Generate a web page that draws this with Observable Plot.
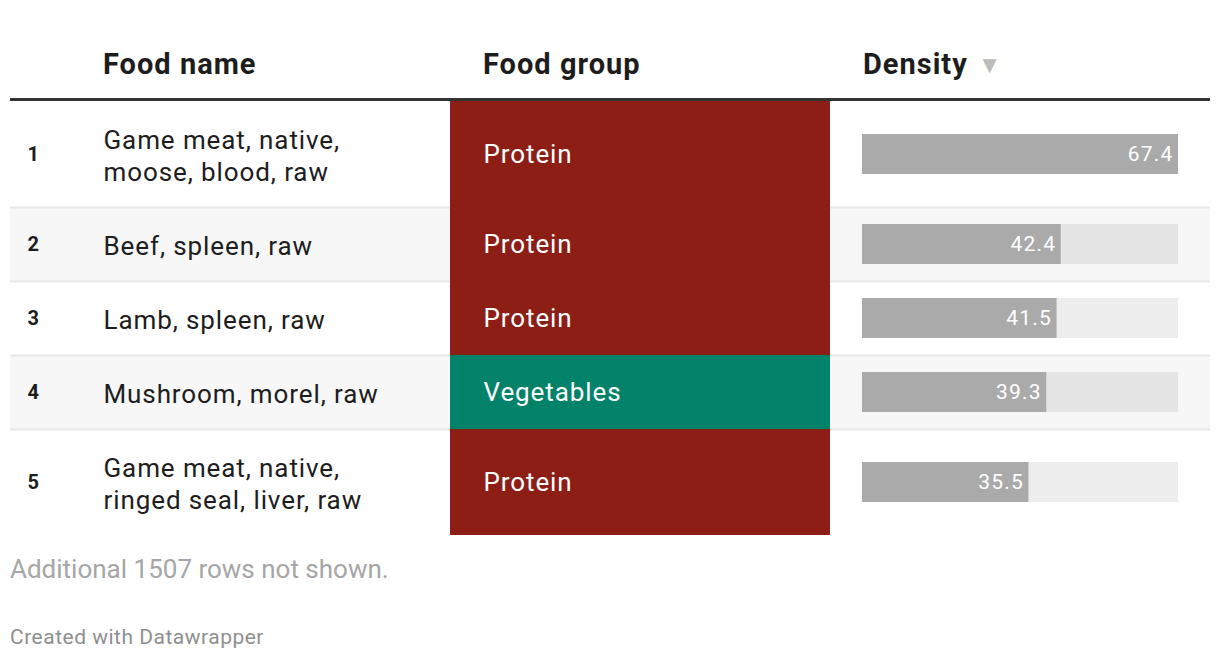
<!DOCTYPE html>
<html>
<head>
<meta charset="utf-8">
<script src="https://cdn.jsdelivr.net/npm/d3@7"></script>
<script src="https://cdn.jsdelivr.net/npm/@observablehq/plot@0.6"></script>
<style>
  html, body { margin: 0; padding: 0; background: #fff; }
  body { width: 1220px; height: 660px; position: relative; font-family: Roboto, sans-serif; color: #1d1d1d; overflow: hidden; }
  .hdr { position: absolute; top: 49px; line-height: 30px; font-size: 29px; font-weight: 700; letter-spacing: 1px; white-space: nowrap; }
  .hdr .arrow { color: #bbb; font-size: 24px; margin-left: 10px; vertical-align: 1px; letter-spacing: 0; }
  #hline { position: absolute; top: 98px; left: 10px; width: 1200px; height: 3px; background: #333; }
  #body { position: absolute; top: 101px; left: 0; display: flex; }
  #note { position: absolute; left: 10px; top: 554px; line-height: 30px; font-size: 26px; color: #a6a6a6; }
  #credit { position: absolute; left: 10px; top: 625px; line-height: 24px; font-size: 21px; letter-spacing: 0.5px; color: #8f8f8f; }
</style>
</head>
<body>
<div id="h0" class="hdr" style="left:103px"></div>
<div id="h1" class="hdr" style="left:483px"></div>
<div id="h2" class="hdr" style="left:863px"></div>
<div id="hline"></div>
<div id="body"></div>
<div id="note"></div>
<div id="credit">Created with Datawrapper</div>
<script>
// ---- data ----
const columnHeaders = ["Food name", "Food group", "Density"];
const ranks = [1, 2, 3, 4, 5];
const foodNames = [
  "Game meat, native,\nmoose, blood, raw",
  "Beef, spleen, raw",
  "Lamb, spleen, raw",
  "Mushroom, morel, raw",
  "Game meat, native,\nringed seal, liver, raw"
];
const foodGroups = ["Protein", "Protein", "Protein", "Vegetables", "Protein"];
const densities = [67.4, 42.4, 41.5, 39.3, 35.5];
const groupNames = ["Protein", "Vegetables"];
const groupColors = ["#8c1e16", "#03826a"];
const hiddenRows = 1507;

// ---- layout ----
const LINE = 32;            // px per text line
const PAD = 42 / LINE;      // row padding in line units
const BAR = 40 / LINE;      // bar height in line units

let acc = 0;
const rows = foodNames.map((name, i) => {
  const lines = name.split("\n").length;
  const y0 = acc;
  const y1 = acc + lines + PAD;
  acc = y1;
  return {i, rank: ranks[i], name, group: foodGroups[i], value: densities[i], y0, y1, yc: (y0 + y1) / 2};
});
const total = acc;
const H = Math.round(total * LINE);
const xmax = d3.max(densities);

document.getElementById("h0").textContent = columnHeaders[0];
document.getElementById("h1").textContent = columnHeaders[1];
document.getElementById("h2").innerHTML = columnHeaders[2] + '<span class="arrow">\u25BC</span>';
document.getElementById("note").textContent = `Additional ${hiddenRows} rows not shown.`;

const yScale = {domain: [0, total], range: [0, H], axis: null};
const baseStyle = {fontFamily: "Roboto, sans-serif", background: "transparent", overflow: "visible"};
const striped = rows.filter(d => d.i % 2 === 1);
const separators = rows.slice(0, -1).map(d => d.y1);

const plotA = Plot.plot({
  width: 450, height: H, marginTop: 0, marginBottom: 0, marginLeft: 10, marginRight: 0,
  y: yScale, style: {...baseStyle, letterSpacing: "0.9px"},
  marks: [
    Plot.rect(striped, {y1: "y0", y2: "y1", fill: "#f7f7f7"}),
    Plot.ruleY(separators, {stroke: "#e8e8e8", strokeWidth: 2}),
    Plot.text(rows, {y: "yc", text: d => String(d.rank), frameAnchor: "left", textAnchor: "start", dx: 17, fontSize: 20, fontWeight: "bold", fill: "#1d1d1d"}),
    Plot.text(rows, {y: "yc", text: "name", frameAnchor: "left", textAnchor: "start", dx: 93, fontSize: 26, lineHeight: LINE / 26, fill: "#1d1d1d"})
  ]
});

const plotB = Plot.plot({
  width: 380, height: H, marginTop: 0, marginBottom: 0, marginLeft: 0, marginRight: 0,
  y: yScale, style: {...baseStyle, letterSpacing: "0.9px"},
  color: {domain: groupNames, range: groupColors},
  marks: [
    Plot.rect(rows, {y1: "y0", y2: "y1", fill: "group"}),
    Plot.text(rows, {y: "yc", text: "group", frameAnchor: "left", textAnchor: "start", dx: 33, fontSize: 26, fill: "white"})
  ]
});

const plotC = Plot.plot({
  width: 390, height: H, marginTop: 0, marginBottom: 0, marginLeft: 0, marginRight: 10,
  y: yScale, style: {...baseStyle, letterSpacing: "1.2px"},
  x: {domain: [0, xmax], range: [32, 348], axis: null},
  marks: [
    Plot.rect(striped, {y1: "y0", y2: "y1", fill: "#f7f7f7"}),
    Plot.ruleY(separators, {stroke: "#e8e8e8", strokeWidth: 2}),
    Plot.rect(rows, {x1: 0, x2: xmax, y1: d => d.yc - BAR / 2, y2: d => d.yc + BAR / 2, fill: "#000", fillOpacity: 0.07}),
    Plot.rect(rows, {x1: 0, x2: "value", y1: d => d.yc - BAR / 2, y2: d => d.yc + BAR / 2, fill: "#aaaaaa"}),
    Plot.text(rows, {x: "value", y: "yc", text: d => d.value.toFixed(1), textAnchor: "end", dx: -5, fontSize: 21, fill: "white"})
  ]
});

const body = document.getElementById("body");
body.append(plotA, plotB, plotC);
</script>
</body>
</html>
